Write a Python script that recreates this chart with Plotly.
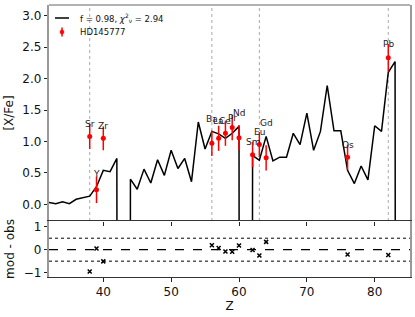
import plotly.graph_objects as go

# ---- data ----
model_Z = list(range(32, 85))
model_val = [0.03, 0.01, 0.04, 0.01, 0.08, 0.11, 0.13, 0.28, 0.54, 0.52,
             0.73, -99, 0.40, 0.24, 0.56, 0.34, 0.71, 0.46, 0.86, 0.57,
             0.73, 0.36, 1.31, 0.88, 1.16, 1.12, 1.05, 1.13, 1.24, -99,
             0.78, 0.70, 1.08, 0.69, 0.75, 0.75, 1.13, 0.95, 1.45, 0.86,
             1.16, 1.89, 1.17, 1.17, 0.54, 0.33, 0.61, 0.39, 1.25, 1.16,
             2.10, 2.27, -99]

obs_el = ["Sr", "Y", "Zr", "Ba", "La", "Ce", "Pr", "Nd", "Sm", "Eu", "Gd", "Os", "Pb"]
obs_Z = [38, 39, 40, 56, 57, 58, 59, 60, 62, 63, 64, 76, 82]
obs_val = [1.08, 0.23, 1.05, 0.97, 1.05, 1.13, 1.22, 1.06, 0.79, 0.95, 0.74, 0.75, 2.33]
obs_err = [0.20, 0.21, 0.19, 0.20, 0.20, 0.20, 0.20, 0.20, 0.20, 0.20, 0.20, 0.20, 0.22]
label_y = [1.27, 0.48, 1.25, 1.35, 1.32, 1.32, 1.38, 1.45, 0.99, 1.15, 1.29, 0.95, 2.55]

ref_Z = [38, 56, 63, 82]
resid_guides = [-0.5, 0.5]

model_name = "f = 0.98, <i>χ</i><sup>2</sup><sub>ν</sub> = 2.94"
star_name = "HD145777"

# residuals mod - obs
model_lookup = dict(zip(model_Z, model_val))
resid = [model_lookup[z] - v for z, v in zip(obs_Z, obs_val)]

FONT = "DejaVu Sans"
W, H = 415, 317
ML, MR, MT, MB = 49, 5, 5, 40
PW, PH = W - ML - MR, H - MT - MB


def px(xp):
    return (xp - ML) / PW


def py(yp):
    return 1 - (yp - MT) / PH


fig = go.Figure()

fig.add_trace(go.Scatter(x=model_Z, y=model_val, mode="lines",
                         line=dict(color="black", width=1.5),
                         name=model_name, showlegend=False, xaxis="x", yaxis="y"))
fig.add_trace(go.Scatter(x=obs_Z, y=obs_val, mode="markers",
                         marker=dict(color="red", size=5),
                         error_y=dict(type="data", array=obs_err, color="red",
                                      thickness=1.5, width=0),
                         name=star_name, showlegend=False, xaxis="x", yaxis="y"))
fig.add_trace(go.Scatter(x=obs_Z, y=resid, mode="markers",
                         marker=dict(symbol="x-thin", size=4,
                                     line=dict(width=1.5, color="black")),
                         showlegend=False, xaxis="x2", yaxis="y2"))

for z in ref_Z:
    fig.add_shape(type="line", xref="x", yref="y domain", x0=z, x1=z, y0=0, y1=1,
                  line=dict(color="#aaaaaa", width=1, dash="dot"), layer="below")

fig.add_shape(type="line", xref="x2 domain", yref="y2", x0=0, x1=1, y0=0, y1=0,
              line=dict(color="black", width=1.2, dash="dash"))
for g in resid_guides:
    fig.add_shape(type="line", xref="x2 domain", yref="y2", x0=0, x1=1, y0=g, y1=g,
                  line=dict(color="black", width=1, dash="dot"))

# top border of top panel
fig.add_shape(type="line", xref="paper", yref="paper", x0=0, x1=1, y0=1, y1=1,
              line=dict(color="#999999", width=1.5))

# legend (drawn manually to match matplotlib layout)
fig.add_shape(type="line", xref="paper", yref="paper", x0=px(55), x1=px(69),
              y0=py(18), y1=py(18), line=dict(color="black", width=1.5))
fig.add_shape(type="line", xref="paper", yref="paper", x0=px(62), x1=px(62),
              y0=py(27.5), y1=py(36.5), line=dict(color="red", width=1.5))
fig.add_shape(type="circle", xref="paper", yref="paper", x0=px(60), x1=px(64),
              y0=py(30), y1=py(34), fillcolor="red", line=dict(color="red", width=0.5))
fig.add_annotation(x=px(78), y=py(18), xref="paper", yref="paper", text=model_name,
                   showarrow=False, xanchor="left", yanchor="middle",
                   font=dict(size=8.5, family=FONT, color="#111"))
fig.add_annotation(x=px(78), y=py(32), xref="paper", yref="paper", text=star_name,
                   showarrow=False, xanchor="left", yanchor="middle",
                   font=dict(size=8.5, family=FONT, color="#111"))

for el, z, ly in zip(obs_el, obs_Z, label_y):
    fig.add_annotation(x=z, y=ly, xref="x", yref="y", text=el, showarrow=False,
                       font=dict(size=9, color="#222222", family=FONT),
                       xanchor="center", yanchor="middle")

split = 56 / 272
axis_common = dict(ticks="outside", ticklen=3.5, tickwidth=1, tickcolor="#222",
                   showgrid=False, zeroline=False, automargin=False,
                   tickfont=dict(size=12, family=FONT, color="#111"))

fig.update_layout(
    width=W, height=H,
    margin=dict(l=ML, r=MR, t=MT, b=MB, autoexpand=False),
    paper_bgcolor="white", plot_bgcolor="white",
    font=dict(family=FONT, color="#111"),
    showlegend=False,
    xaxis=dict(domain=[0, 1], range=[32, 85.2], anchor="y", matches="x2",
               showticklabels=False, showline=False, **axis_common),
    yaxis=dict(domain=[split, 1], range=[-0.265, 3.17], anchor="x",
               tickvals=[0, 0.5, 1, 1.5, 2, 2.5, 3],
               ticktext=["0.0", "0.5", "1.0", "1.5", "2.0", "2.5", "3.0"],
               showline=True, linecolor="#999999", linewidth=1.5, mirror=True,
               title=dict(text="[X/Fe]", font=dict(size=12, family=FONT), standoff=6),
               **axis_common),
    xaxis2=dict(domain=[0, 1], range=[32, 85.2], anchor="y2",
                tickvals=[40, 50, 60, 70, 80],
                showline=True, linecolor="#333333", linewidth=1.2, mirror=True,
                title=dict(text="Z", font=dict(size=12, family=FONT), standoff=2),
                **axis_common),
    yaxis2=dict(domain=[0, split], range=[-1.19, 1.25], anchor="x2",
                tickvals=[-1, 0, 1], ticktext=["−1", "0", "1"],
                showline=True, linecolor="#999999", linewidth=1.5, mirror=True,
                title=dict(text="mod - obs", font=dict(size=12, family=FONT), standoff=6),
                **axis_common),
)

fig.write_html("out.html", config={"displayModeBar": False},
               post_script="document.body.style.margin='0';document.body.style.padding='0';")
